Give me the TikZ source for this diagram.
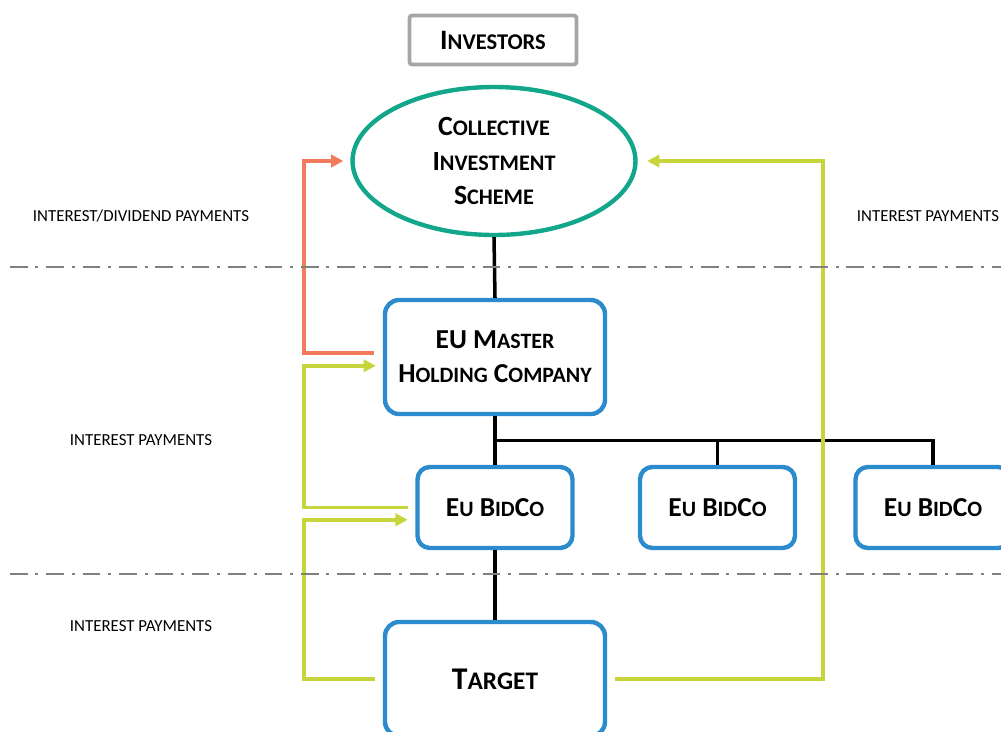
\documentclass[tikz,border=0pt]{standalone}
\usepackage{fontspec}
\setmainfont{Carlito}
\usepackage{graphicx}
\usepackage{tikz}
\usetikzlibrary{positioning, arrows.meta, shapes.geometric, calc}

\definecolor{cisteal}{HTML}{12A68B}
\definecolor{boxblue}{HTML}{2B8BCC}
\definecolor{payorange}{HTML}{F27B5B}
\definecolor{payyellow}{HTML}{C8D43C}
\definecolor{framegray}{HTML}{A6A6A6}
\definecolor{sepgray}{HTML}{808080}

% lowered capitals for the small-caps look
\newcommand{\lowcaps}[1]{\scalebox{0.8}{#1}}

\begin{document}
\begin{tikzpicture}[x=0.02cm, y=-0.02cm,
  entity/.style={draw=boxblue, line width=2.5pt, rounded corners=8pt, inner sep=0pt,
    align=center, font=\fontsize{15.6}{19.5}\selectfont\bfseries},
  tree/.style={line width=2pt},
  pay/.style={line width=2pt, -{Triangle[length=7pt, width=7pt]}},
  sep/.style={draw=sepgray, line width=1.2pt, dash pattern=on 10pt off 4.5pt on 1.7pt off 4.5pt},
  note/.style={font=\fontsize{9.6}{11}\selectfont}]
		\useasboundingbox (0,0) rectangle (1001,731);
		\clip (0,0) rectangle (1001,731);

		% Investors and the fund
		\node (investors) at (493,40) [draw=framegray, line width=2.2pt, rounded corners=1.5pt,
			minimum width=3.34cm, minimum height=0.98cm, font=\fontsize{16}{18}\selectfont\bfseries] {I\lowcaps{NVESTORS}};
		\node (cis) at (494,161) [ellipse, draw=cisteal, line width=2.5pt, minimum width=5.66cm, minimum height=2.96cm,
			inner sep=0pt, align=center, font=\fontsize{15.8}{19.5}\selectfont\bfseries]
			{C\lowcaps{OLLECTIVE}\\I\lowcaps{NVESTMENT}\\S\lowcaps{CHEME}};

		% Holding structure
		\node (master) at (495,357) [entity, minimum width=4.4cm, minimum height=2.28cm] {EU M\lowcaps{ASTER}\\H\lowcaps{OLDING} C\lowcaps{OMPANY}};
		\node (bid1) at (495,507.5) [entity, rounded corners=7pt, minimum width=3.1cm, minimum height=1.62cm] {E\lowcaps{U} B\lowcaps{ID}C\lowcaps{O}};
		\node (bid2) at (717.5,507.5) [entity, rounded corners=7pt, minimum width=3.1cm, minimum height=1.62cm] {E\lowcaps{U} B\lowcaps{ID}C\lowcaps{O}};
		\node (bid3) at (933,507.5) [entity, rounded corners=7pt, minimum width=3.1cm, minimum height=1.62cm] {E\lowcaps{U} B\lowcaps{ID}C\lowcaps{O}};
		\node (target) at (495,679) [entity, minimum width=4.4cm, minimum height=2.28cm, font=\fontsize{18}{22}\selectfont\bfseries] {T\lowcaps{ARGET}};

		% Ownership lines
		\draw[tree] (cis.south) -- (master.north);
		\draw[tree] (master.south) -- (bid1.north);
		\coordinate (fork) at ($(master.south)!0.5!(bid1.north)$);
		\draw[tree] (fork) -| (bid2.north);
		\draw[tree] (fork) -| (bid3.north);
		\draw[tree] (bid1.south) -- (target.north);

		% Payment flows
		\coordinate (railL) at (304,0);
		\coordinate (railR) at (823,0);
		\coordinate (cisL) at ([xshift=-4pt]cis.west);
		\coordinate (cisR) at ([xshift=5.4pt]cis.east);
		\coordinate (mOut) at ([xshift=-5pt,yshift=2.3pt]master.west);
		\coordinate (mIn) at ([xshift=-4pt,yshift=-5pt]master.west);
		\coordinate (bOut) at ([xshift=-4.3pt]bid1.west);
		\coordinate (bIn) at ([xshift=-4.3pt,yshift=-7pt]bid1.west);
		\coordinate (tL) at ([xshift=-4.5pt]target.west);
		\coordinate (tR) at ([xshift=4.5pt]target.east);

		\draw[pay, payorange] (mOut) -| (railL |- cisL) -- (cisL);
		\draw[pay, payyellow] (bOut) -| (railL |- mIn) -- (mIn);
		\draw[pay, payyellow] (tL) -| (railL |- bIn) -- (bIn);
		\draw[pay, payyellow] (tR) -| (railR |- cisR) -- (cisR);

		% Level separators
		\draw[sep] (10,267) -- (1001,267);
		\draw[sep] (10,574) -- (1001,574);

		% Labels
		\node[note] (divlabel) at (141,216) {INTEREST/DIVIDEND PAYMENTS};
		\node[note] (cislabel) at (928,216) {INTEREST PAYMENTS};
		\node[note] (masterlabel) at (141,440) {INTEREST PAYMENTS};
		\node[note] (targetlabel) at (141,626) {INTEREST PAYMENTS};
	\end{tikzpicture}
\end{document}
